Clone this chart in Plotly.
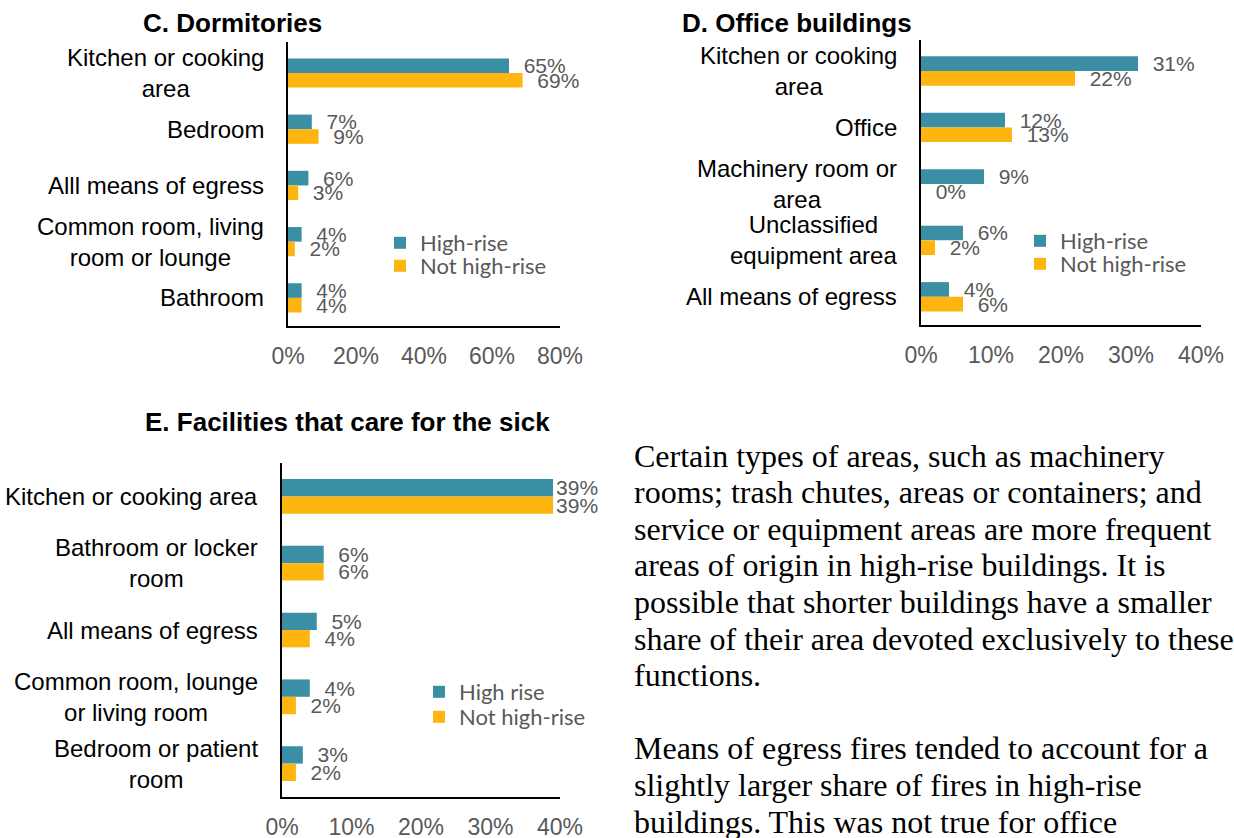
import plotly.graph_objects as go

# ---------------- data ----------------
dorm_categories = ["Kitchen or cooking<br>area", "Bedroom", "Alll means of egress",
                   "Common room, living<br>room or lounge", "Bathroom"]
dorm_high = [65, 7, 6, 4, 4]
dorm_not = [69, 9, 3, 2, 4]

office_categories = ["Kitchen or cooking<br>area", "Office", "Machinery room or<br>area",
                     "Unclassified<br>equipment area", "All means of egress"]
office_high = [31, 12, 9, 6, 4]
office_not = [22, 13, 0, 2, 6]

care_categories = ["Kitchen or cooking area", "Bathroom or locker<br>room", "All means of egress",
                   "Common room, lounge<br>or living room", "Bedroom or patient<br>room"]
care_high = [39, 6, 5, 4, 3]
care_not = [39, 6, 4, 2, 2]

dorm_ticks = [0, 20, 40, 60, 80]
office_ticks = [0, 10, 20, 30, 40]
care_ticks = [0, 10, 20, 30, 40]

paragraph_lines = [
    "Certain types of areas, such as machinery",
    "rooms; trash chutes, areas or containers; and",
    "service or equipment areas are more frequent",
    "areas of origin in high-rise buildings. It is",
    "possible that shorter buildings have a smaller",
    "share of their area devoted exclusively to these",
    "functions.",
    "",
    "Means of egress fires tended to account for a",
    "slightly larger share of fires in high-rise",
    "buildings. This was not true for office",
]

# ---------------- style ----------------
W, H = 1234, 838
TEAL = "#3A8FA5"
GOLD = "#FFB50F"
GREY = "#595959"
SANS = "Liberation Sans, Arial, sans-serif"
LEG = "Lato, Open Sans, sans-serif"
SERIF = "Liberation Serif, Times New Roman, serif"


def px_x(p):
    return p / W


def px_y(p):
    return 1 - p / H


def labels(vals, vmax):
    out = []
    for v in vals:
        pad = "" if v >= 0.9 * vmax else "\u00a0\u00a0"
        out.append(f"{pad}{v}%")
    return out


panels = [
    dict(ax="", title="C. Dormitories", cats=dorm_categories, high=dorm_high, nothigh=dorm_not,
         ticks=dorm_ticks, xdom=(288, 560), ydom=(42, 326), title_xy=(232, 23),
         hname="High-rise", leg_x=380, leg_tops=(222, 245)),
    dict(ax="2", title="D. Office buildings", cats=office_categories, high=office_high, nothigh=office_not,
         ticks=office_ticks, xdom=(921, 1201), ydom=(40, 325), title_xy=(797, 23),
         hname="High-rise", leg_x=1020, leg_tops=(220, 243)),
    dict(ax="3", title="E. Facilities that care for the sick", cats=care_categories, high=care_high,
         nothigh=care_not, ticks=care_ticks, xdom=(282, 560), ydom=(463, 797), title_xy=(347, 422),
         hname="High rise", leg_x=419, leg_tops=(671, 696)),
]

fig = go.Figure()
annotations = []
layout = dict(
    width=W, height=H, autosize=False,
    margin=dict(l=0, r=0, t=0, b=0, autoexpand=False),
    paper_bgcolor="white", plot_bgcolor="white",
    barmode="group", bargap=0.48, bargroupgap=0,
    showlegend=True,
)

leg_count = 0
for p in panels:
    xa = "x" + p["ax"]
    ya = "y" + p["ax"]
    vmax = p["ticks"][-1]
    series = [(p["hname"], p["high"], TEAL), ("Not high-rise", p["nothigh"], GOLD)]
    for k, (name, vals, color) in enumerate(series):
        leg_count += 1
        leg_id = "legend" if leg_count == 1 else f"legend{leg_count}"
        fig.add_trace(go.Bar(
            x=vals, y=p["cats"], orientation="h", name=name,
            marker=dict(color=color, line=dict(width=0)),
            text=labels(vals, vmax), textposition="outside",
            textfont=dict(family=SANS, size=21, color=GREY),
            cliponaxis=False, constraintext="none",
            xaxis=xa, yaxis=ya, legend=leg_id, hoverinfo="x+y",
        ))
        layout[leg_id] = dict(
            x=px_x(p["leg_x"]), y=px_y(p["leg_tops"][k]), xanchor="left", yanchor="top",
            bgcolor="rgba(0,0,0,0)", traceorder="normal",
            font=dict(family=LEG, size=22, color=GREY),
        )
    layout["xaxis" + p["ax"]] = dict(
        domain=[px_x(p["xdom"][0]), px_x(p["xdom"][1])], anchor=ya,
        range=[0, vmax], tickvals=p["ticks"], ticktext=[f"{t}%" for t in p["ticks"]],
        showline=True, linecolor="black", linewidth=1.5,
        showgrid=False, zeroline=False, automargin=False,
        ticks="outside", ticklen=9, tickcolor="rgba(0,0,0,0)",
        tickfont=dict(family=SANS, size=23, color=GREY),
    )
    layout["yaxis" + p["ax"]] = dict(
        domain=[px_y(p["ydom"][1]), px_y(p["ydom"][0])], anchor=xa,
        type="category", autorange="reversed", showticklabels=False,
        showline=True, linecolor="black", linewidth=1.5, automargin=False,
        showgrid=False, zeroline=False, ticks="",
    )
    # category labels (centered multi-line, right-aligned to axis)
    for i, c in enumerate(p["cats"]):
        annotations.append(dict(
            text=c, xref=xa + " domain", x=0, yref=ya, y=i,
            xanchor="right", yanchor="middle", align="center", xshift=-22,
            showarrow=False, font=dict(family=SANS, size=24, color="black"),
        ))
    # panel title
    annotations.append(dict(
        text="<b>" + p["title"] + "</b>", xref="paper", yref="paper",
        x=px_x(p["title_xy"][0]), y=px_y(p["title_xy"][1]),
        xanchor="center", yanchor="middle", showarrow=False,
        font=dict(family=SANS, size=26, color="black"),
    ))

# paragraph text
line_start = 455.5
line_step = 36.6
for i, line in enumerate(paragraph_lines):
    if not line:
        continue
    annotations.append(dict(
        text=line, xref="paper", yref="paper",
        x=px_x(632), y=px_y(line_start + i * line_step),
        xanchor="left", yanchor="middle", showarrow=False,
        font=dict(family=SERIF, size=32, color="black"),
    ))

layout["annotations"] = annotations
fig.update_layout(**layout)
fig.write_html(
    "out.html",
    config={"responsive": False, "displayModeBar": False},
    post_script="document.body.style.margin='0px';document.body.style.overflow='hidden';",
)
